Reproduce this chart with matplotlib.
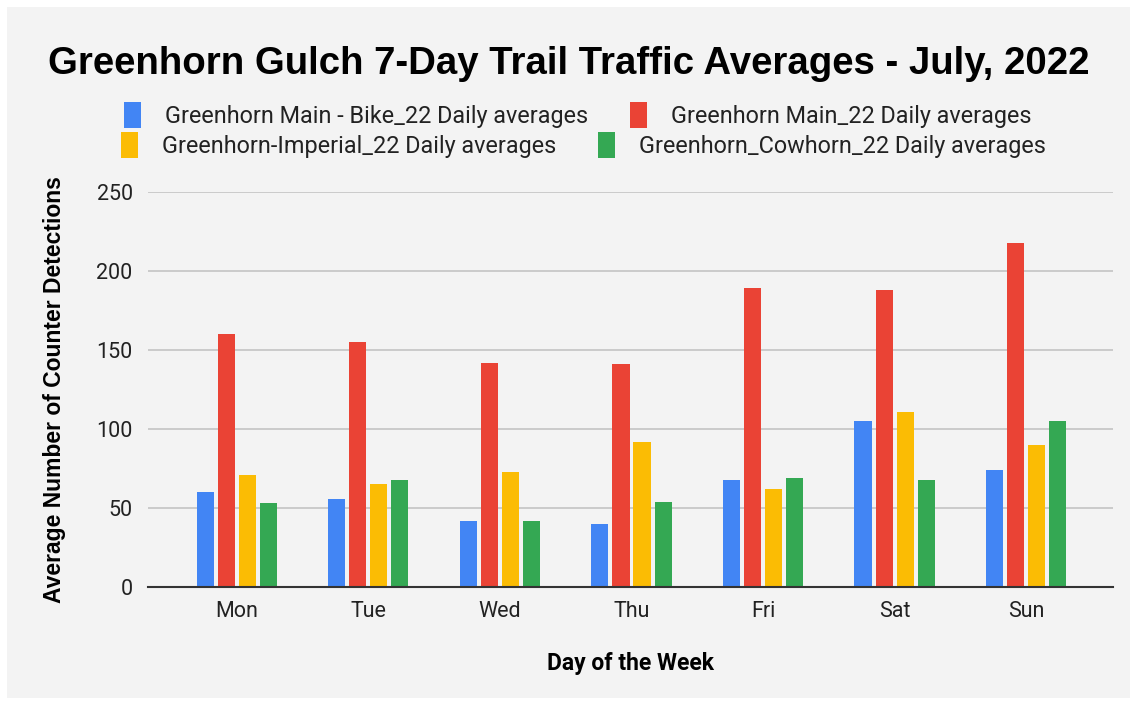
import matplotlib
matplotlib.use("Agg")
import matplotlib.pyplot as plt
import numpy as np

days = ["Mon", "Tue", "Wed", "Thu", "Fri", "Sat", "Sun"]
series_names = ["Greenhorn Main - Bike_22 Daily averages", "Greenhorn Main_22 Daily averages",
                "Greenhorn-Imperial_22 Daily averages", "Greenhorn_Cowhorn_22 Daily averages"]
bike = [60, 56, 42, 40, 68, 105, 74]
main = [160, 155, 142, 141, 189, 188, 218]
imperial = [71, 65, 73, 92, 62, 111, 90]
cowhorn = [53, 68, 42, 54, 69, 68, 105]
colors = ["#4285f4", "#ea4335", "#fbbc04", "#34a853"]

bg = "#f3f3f3"
fig = plt.figure(figsize=(11.37, 7.05), dpi=100, facecolor="white")
fig.patches.append(plt.Rectangle((7 / 1137, 7 / 705), 1 - 14 / 1137, 1 - 14 / 705, transform=fig.transFigure,
                                 facecolor=bg, edgecolor="none", zorder=-1))
ax = fig.add_axes([148 / 1137, 1 - 587 / 705, (1113 - 148) / 1137, (587 - 192) / 705])
ax.set_facecolor(bg)

x = np.arange(len(days))
width, step = 0.13, 0.16
handles = []
for i, (vals, c) in enumerate(zip([bike, main, imperial, cowhorn], colors)):
    h = ax.bar(x + (i - 1.5) * step, vals, width, color=c, zorder=3, label=series_names[i])
    handles.append(h)

ax.set_xlim(-0.675, 6.66)
ax.set_ylim(0, 250)
ax.set_yticks([0, 50, 100, 150, 200, 250])
ax.set_xticks(x, days)
ax.grid(axis="y", color="#c4c4c4", linewidth=1.2, zorder=0)
for s in ["top", "right", "left"]:
    ax.spines[s].set_visible(False)
ax.spines["bottom"].set_color("#333333"); ax.spines["bottom"].set_linewidth(1.5); ax.spines["bottom"].set_zorder(4)
ax.tick_params(length=0, labelsize=15.5, colors="#222222", pad=10)
ax.tick_params(axis="y", pad=11)
for lab in ax.get_xticklabels() + ax.get_yticklabels():
    lab.set_family("Roboto")

ax.set_xlabel("Day of the Week", fontsize=16.5, fontweight="bold", family="Roboto", labelpad=22)
ax.set_ylabel("Average Number of Counter Detections", fontsize=16.5, fontweight="bold",
              family="Liberation Sans", labelpad=22)

fig.text(0.5, 1 - 64 / 705, "Greenhorn Gulch 7-Day Trail Traffic Averages - July, 2022", ha="center", va="center",
         fontsize=27.6, fontweight="bold", family="Liberation Sans")

leg_kw = dict(ncol=2, frameon=False, prop={"family": "Roboto", "size": 16.8}, handlelength=0.75, handleheight=1.3,
              columnspacing=1.8, handletextpad=1.0, loc="center", labelcolor="#222222")
fig.legend(handles[:2], series_names[:2], bbox_to_anchor=(0.508, 1 - 115 / 705), **leg_kw)
fig.legend(handles[2:], series_names[2:], bbox_to_anchor=(0.513, 1 - 145 / 705), **leg_kw)

fig.savefig("out.png", dpi=100, facecolor="white")
